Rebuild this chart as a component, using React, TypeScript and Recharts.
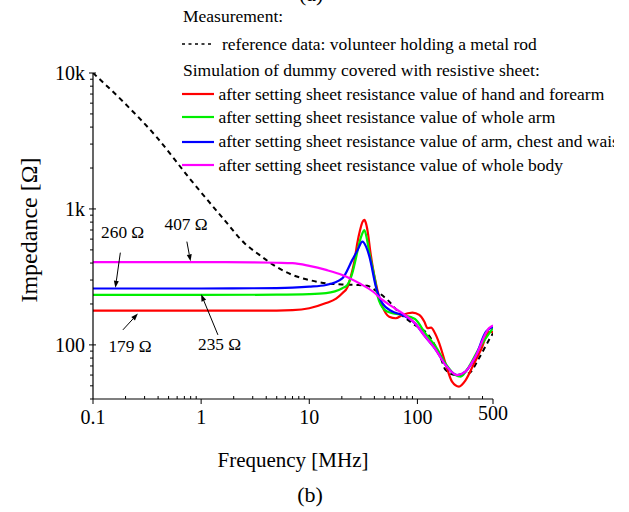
import React from "react";
import { LineChart, Line, XAxis, YAxis, Legend, ReferenceLine, ReferenceDot } from "recharts";

const FONT = "'Liberation Serif', 'Times New Roman', serif";

// measurement: volunteer holding a metal rod
const refFreq = [0.1, 0.19, 0.385, 0.78, 1.59, 2.52, 3.46, 4.93, 7, 10, 14.3, 20, 27, 34.6, 40, 44.5, 53, 68.6, 90, 130, 163, 182, 225, 300, 365, 460, 500];
const refZ = [10000, 6150, 3400, 1680, 855, 560, 459, 377, 327, 300, 284, 278, 276, 272, 255, 240, 214, 171, 144, 115, 82, 65.5, 60, 62, 78, 109, 122];

// simulation: hand and forearm
const redFreq = [0.1, 1, 5, 7, 10, 14.3, 17.7, 20.2, 22.5, 24.2, 26.1, 27.8, 29.5, 31, 32.3, 33.5, 35, 36.5, 38.5, 41.3, 44, 47.5, 54.8, 63, 72.5, 90, 104, 116, 124, 134, 143, 159, 182, 209, 242, 280, 334, 387, 460, 500];
const redZ = [179, 179, 179, 180, 186, 203, 219, 240, 265, 318, 409, 560, 700, 800, 830, 780, 650, 500, 380, 284, 228, 191, 161, 157, 166, 173, 166, 148, 133, 134, 125, 103, 73, 53.7, 49.4, 55.3, 73, 92, 125, 124];

// simulation: whole arm
const greenFreq = [0.1, 1, 5, 10, 14.3, 20.2, 22.5, 25, 27, 29, 31, 32.3, 34, 36, 38, 41.3, 43, 49.7, 58.6, 72.5, 95, 118, 148, 182, 225, 250, 300, 365, 500];
const greenZ = [233, 233, 234, 236, 240, 261, 276, 337, 434, 560, 662, 700, 609, 472, 387, 276, 226, 181, 171, 166, 155, 122, 97, 73, 60, 58.5, 69.3, 92, 133];

// simulation: arm, chest and waist
const blueFreq = [0.1, 1, 3, 7, 10, 14.3, 20.2, 25, 28, 31, 33.5, 36, 41.3, 47.5, 58.6, 72.5, 95, 118, 148, 182, 233, 280, 344, 430, 500];
const blueZ = [260, 260, 261, 264, 268, 276, 309, 422, 499, 575, 528, 446, 268, 202, 176, 166, 144, 115, 92, 71, 60, 64, 82, 125, 136];

// simulation: whole body
const magFreq = [0.1, 1, 3, 5, 7, 10, 14.3, 20.2, 29, 39, 47.5, 58.6, 72.5, 95, 118, 148, 182, 233, 280, 344, 460, 500];
const magZ = [407, 407, 405, 402, 399, 381, 356, 327, 284, 246, 214, 191, 171, 144, 115, 92, 71, 60, 64, 82, 133, 139];

const xMajor = [0.1, 1, 10, 100, 500];
const xMinor = [0.2, 0.3, 0.4, 0.5, 0.6, 0.7, 0.8, 0.9, 2, 3, 4, 5, 6, 7, 8, 9, 20, 30, 40, 50, 60, 70, 80, 90, 200, 300, 400];
const yMajor = [100, 1000, 10000];
const yMajorText = ["100", "1k", "10k"];
const yMinor = [40, 50, 60, 70, 80, 90, 200, 300, 400, 500, 600, 700, 800, 900, 2000, 3000, 4000, 5000, 6000, 7000, 8000, 9000];

const simNames = [
  "after setting sheet resistance value of hand and forearm",
  "after setting sheet resistance value of whole arm",
  "after setting sheet resistance value of arm, chest and waist",
  "after setting sheet resistance value of whole body",
];
const simColors = ["#ff0000", "#00ee00", "#0000ff", "#ff00ff"];

// annotations: label, label pos, arrow start, arrow end (data coords)
const annText = ["260 Ω", "407 Ω", "179 Ω", "235 Ω"];
const annAt = [[0.188, 677], [0.726, 776], [0.22, 98.4], [1.48, 101.7]];
const annFrom = [[0.179, 477], [0.738, 575], [0.189, 129], [1.43, 118.5]];
const annTo = [[0.161, 263], [0.798, 412], [0.26, 170], [1.0, 236]];

const toData = (f: number[], z: number[]) => f.map((v, i) => ({ f: v, z: z[i] }));
const simData = [toData(redFreq, redZ), toData(greenFreq, greenZ), toData(blueFreq, blueZ), toData(magFreq, magZ)];

const XTick = (props: any) => {
  const { x, y, payload } = props;
  const v = payload.value;
  const mi = xMajor.indexOf(v);
  if (mi < 0) return <line x1={x} y1={y} x2={x} y2={y - 3} stroke="#000" strokeWidth={1} />;
  return (
    <g>
      <line x1={x} y1={y} x2={x} y2={y + 5} stroke="#000" strokeWidth={1} />
      <text x={x} y={y + (v === 500 ? 21 : 25)} textAnchor="middle" fontFamily={FONT} fontSize={20} fill="#000">
        {String(v)}
      </text>
    </g>
  );
};

const YTick = (props: any) => {
  const { x, y, payload } = props;
  const mi = yMajor.indexOf(payload.value);
  if (mi < 0) return <line x1={x - 3} y1={y} x2={x} y2={y} stroke="#000" strokeWidth={1} />;
  return (
    <g>
      <line x1={x - 4} y1={y} x2={x + 3} y2={y} stroke="#000" strokeWidth={1} />
      <text x={x - 8} y={y} dy="0.35em" textAnchor="end" fontFamily={FONT} fontSize={20} fill="#000">
        {yMajorText[mi]}
      </text>
    </g>
  );
};

const Arrow = (props: any) => {
  const { x1, y1, x2, y2 } = props;
  const dx = x2 - x1;
  const dy = y2 - y1;
  const len = Math.sqrt(dx * dx + dy * dy) || 1;
  const ux = dx / len;
  const uy = dy / len;
  const hl = 7;
  const hw = 2.5;
  const bx = x2 - ux * hl;
  const by = y2 - uy * hl;
  return (
    <g>
      <line x1={x1} y1={y1} x2={bx} y2={by} stroke="#000" strokeWidth={1} />
      <polygon
        points={`${x2},${y2} ${bx - uy * hw},${by + ux * hw} ${bx + uy * hw},${by - ux * hw}`}
        fill="#000"
      />
    </g>
  );
};

const LegendBox = () => {
  const tops = [16.7, 44.3, 70, 94.3, 117.3, 141.7, 165];
  const rowStyle = (i: number, left: number): React.CSSProperties => ({
    position: "absolute",
    left,
    top: tops[i] - 11,
    height: 22,
    display: "flex",
    alignItems: "center",
    whiteSpace: "nowrap",
  });
  return (
    <div style={{ position: "relative", width: 614, height: 185, overflow: "visible", fontFamily: FONT, fontSize: 17.5, color: "#000" }}>
      <span style={{ position: "absolute", left: 299, top: -19, fontSize: 22 }}>(a)</span>
      <div style={{ position: "absolute", left: 0, top: 0, width: 614, height: 185, overflow: "hidden" }}>
        <div style={rowStyle(0, 183)}>Measurement:</div>
        <div style={rowStyle(1, 182)}>
          <svg width={32} height={4}>
            <line x1={0} y1={2} x2={32} y2={2} stroke="#000" strokeWidth={1.5} strokeDasharray="3 3.5" />
          </svg>
          <span style={{ marginLeft: 8 }}>reference data: volunteer holding a metal rod</span>
        </div>
        <div style={rowStyle(2, 183)}>Simulation of dummy covered with resistive sheet:</div>
        {simNames.map((n, i) => (
          <div key={n} style={rowStyle(i + 3, 182)}>
            <svg width={32} height={4}>
              <line x1={0} y1={2} x2={32} y2={2} stroke={simColors[i]} strokeWidth={2.2} />
            </svg>
            <span style={{ marginLeft: 4.5 }}>{n}</span>
          </div>
        ))}
      </div>
    </div>
  );
};

const XLabel = (props: any) => {
  const { viewBox } = props;
  const cx = viewBox.x + viewBox.width / 2;
  return (
    <g fontFamily={FONT} fill="#000">
      <text x={cx} y={467} textAnchor="middle" fontSize={21}>Frequency [MHz]</text>
      <text x={310} y={502} textAnchor="middle" fontSize={22}>(b)</text>
    </g>
  );
};

const YLabel = (props: any) => {
  const { viewBox } = props;
  const cy = viewBox.y + viewBox.height / 2 - 6;
  const cx = 29;
  return (
    <text x={cx} y={cy} dy="0.35em" textAnchor="middle" fontFamily={FONT} fontSize={24} fill="#000" transform={`rotate(-90, ${cx}, ${cy})`}>
      Impedance [Ω]
    </text>
  );
};

export default function App() {
  return (
    <div style={{ position: "absolute", left: 0, top: 0, width: 629, height: 512, overflow: "hidden", background: "#fff" }}>
      <LineChart width={629} height={512} margin={{ top: 73, right: 136, bottom: 73, left: 33 }}>
        <XAxis
          type="number"
          dataKey="f"
          scale="log"
          domain={[0.1, 500]}
          ticks={[...xMinor, ...xMajor]}
          interval={0}
          allowDataOverflow
          height={40}
          tickSize={0}
          tickMargin={0}
          tickLine={false}
          tick={<XTick />}
          axisLine={{ stroke: "#000", strokeWidth: 1.2 }}
          label={<XLabel />}
        />
        <YAxis
          type="number"
          dataKey="z"
          scale="log"
          domain={[40, 10000]}
          ticks={[...yMinor, ...yMajor]}
          interval={0}
          allowDataOverflow
          width={60}
          tickSize={0}
          tickMargin={0}
          tickLine={false}
          tick={<YTick />}
          axisLine={{ stroke: "#000", strokeWidth: 1.2 }}
          label={<YLabel />}
        />
        <Legend layout="vertical" align="center" verticalAlign="middle" content={<LegendBox />} wrapperStyle={{ top: 0, left: 0, width: 614, height: 185 }} />
        <Line
          data={toData(refFreq, refZ)}
          dataKey="z"
          type="monotone"
          stroke="#000"
          strokeWidth={2}
          strokeDasharray="5 4"
          dot={false}
          isAnimationActive={false}
          name="reference"
        />
        {simData.map((d, i) => (
          <Line
            key={simNames[i]}
            data={d}
            dataKey="z"
            type="monotone"
            stroke={simColors[i]}
            strokeWidth={2.2}
            dot={false}
            isAnimationActive={false}
            name={simNames[i]}
          />
        ))}
        {annText.map((t, i) => (
          <ReferenceLine
            key={"l" + t}
            segment={[
              { x: annFrom[i][0], y: annFrom[i][1] },
              { x: annTo[i][0], y: annTo[i][1] },
            ]}
            shape={<Arrow />}
          />
        ))}
        {annText.map((t, i) => (
          <ReferenceDot
            key={"t" + t}
            x={annAt[i][0]}
            y={annAt[i][1]}
            r={0}
            shape={(p: any) => (
              <text x={p.cx} y={p.cy} dy="0.35em" textAnchor="middle" fontFamily={FONT} fontSize={17.3} fill="#000">
                {t}
              </text>
            )}
          />
        ))}
      </LineChart>
    </div>
  );
}
